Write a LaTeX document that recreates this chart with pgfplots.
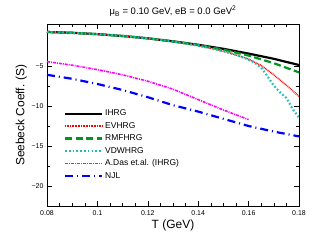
\documentclass[border=0pt]{standalone}
\usepackage{pgfplots}
\pgfplotsset{compat=1.18}
\usepackage{fontspec}
\setmainfont{Liberation Sans}
\definecolor{cgreen}{RGB}{0,150,30}
\definecolor{cteal}{RGB}{30,190,180}
\definecolor{cmag}{RGB}{255,0,255}
\begin{document}
\begin{tikzpicture}
\path[use as bounding box] (-47bp,-39bp) rectangle (268bp,206bp);
\begin{axis}[
  at={(0,0)}, anchor=south west,
  width=252bp, height=182bp, scale only axis,
  xmin=0.08, xmax=0.18, ymin=-22.5, ymax=0.25,
  xtick={0.08,0.1,0.12,0.14,0.16,0.18},
  xticklabels={0.08,0.1,0.12,0.14,0.16,0.18},
  ytick={-20,-15,-10,-5},
  yticklabels={−20,−15,−10,−5},
  minor x tick num=3, minor y tick num=1,
  tick align=inside,
  major tick length=5bp, minor tick length=3bp,
  every tick/.style={black, line width=0.6pt},
  axis line style={line width=0.9pt},
  /pgf/number format/assume math mode=true,
  tick label style={font=\fontsize{7}{8}\selectfont},
  xticklabel style={yshift=-1bp},
  xlabel={T (GeV)},
  ylabel={Seebeck Coeff. (S)},
  label style={font=\fontsize{12}{14}\selectfont},
  xlabel style={yshift=2bp},
  ylabel style={yshift=-2bp},
  title={μ\textsubscript{B} = 0.10 GeV, eB = 0.0 GeV\textsuperscript{2}},
  title style={font=\fontsize{9.5}{11}\selectfont, yshift=-2bp},
  legend style={draw=none, fill=none, at={(0.055,0.55)}, anchor=north west,
    font=\fontsize{8.5}{10}\selectfont, legend cell align=left, row sep=1pt},
  legend image code/.code={\draw[#1] (0bp,0bp) -- (37bp,0bp);},
]
\addplot[black, line width=2.2pt] coordinates {
(0.08,-0.75) (0.09,-0.85) (0.10,-1.02) (0.11,-1.25) (0.12,-1.54) (0.13,-1.92)
(0.14,-2.35) (0.15,-2.85) (0.16,-3.45) (0.17,-4.1) (0.18,-4.88)};
\addlegendentry{IHRG}
\addplot[red, line width=1.6pt, dash pattern=on 0.8pt off 0.8pt] coordinates {
(0.08,-0.75) (0.09,-0.85) (0.10,-1.02) (0.11,-1.25) (0.12,-1.54) (0.13,-1.95)
(0.14,-2.45) (0.15,-3.15) (0.155,-3.6) (0.16,-4.15) (0.165,-4.95) (0.17,-6.1)
(0.175,-7.4) (0.18,-8.8)};
\addlegendentry{EVHRG}
\addplot[cgreen, line width=2.2pt, dash pattern=on 7pt off 3.5pt] coordinates {
(0.08,-0.75) (0.09,-0.85) (0.10,-1.02) (0.11,-1.25) (0.12,-1.54) (0.13,-1.93)
(0.14,-2.37) (0.15,-2.95) (0.16,-3.7) (0.17,-4.65) (0.18,-5.8)};
\addlegendentry{RMFHRG}
\addplot[cteal, line width=2.2pt, dash pattern=on 1.6pt off 2.2pt] coordinates {
(0.08,-0.75) (0.09,-0.85) (0.10,-1.02) (0.11,-1.25) (0.12,-1.54) (0.13,-1.95)
(0.14,-2.45) (0.15,-3.15) (0.155,-3.6) (0.16,-4.2) (0.1625,-4.6) (0.165,-5.2)
(0.1675,-6.3) (0.17,-7.45) (0.1725,-8.3) (0.175,-9.0) (0.1775,-10.4) (0.18,-11.45)};
\addlegendentry{VDWHRG}
\addplot[cmag, line width=1.6pt, dash pattern=on 3pt off 1pt on 1pt off 1pt, forget plot] coordinates {
(0.08,-4.45) (0.09,-4.9) (0.10,-5.45) (0.11,-6.1) (0.12,-6.9) (0.13,-7.9)
(0.14,-9.2) (0.15,-10.5) (0.16,-11.7)};
\addlegendimage{legend image code/.code={\draw[cmag, line width=1.6pt, dash pattern=on 3pt off 1pt on 1pt off 1pt] (0bp,0bp) -- (37bp,0bp);}}
\addlegendentry{A.Das et.al. (IHRG)}
\addplot[blue, line width=2.2pt, dash pattern=on 8pt off 4pt on 1pt off 4pt] coordinates {
(0.08,-6.1) (0.09,-6.6) (0.10,-7.25) (0.11,-8.0) (0.12,-8.9) (0.13,-9.9)
(0.14,-10.7) (0.15,-11.6) (0.16,-12.5) (0.17,-13.2) (0.18,-13.8)};
\addlegendentry{NJL}
\end{axis}
\end{tikzpicture}
\end{document}
